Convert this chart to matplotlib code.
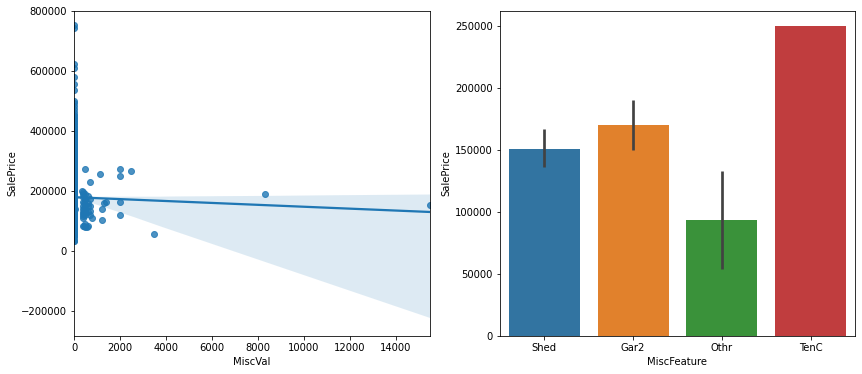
import numpy as np
import pandas as pd
import matplotlib
matplotlib.use("Agg")
import matplotlib.pyplot as plt
import seaborn as sns

# SalePrice of houses with MiscVal == 0: price level and how many houses sit near it
zero_price_levels = [35000, 40000, 52000, 60000, 68000, 75000, 85000, 95000, 105000,
                     115000, 125000, 135000, 145000, 155000, 165000, 175000, 185000,
                     195000, 205000, 215000, 225000, 235000, 245000, 255000, 265000,
                     275000, 285000, 295000, 305000, 315000, 325000, 335000, 345000,
                     355000, 365000, 375000, 385000, 395000, 405000, 415000, 425000,
                     435000, 445000, 455000, 465000, 475000, 485000, 495000,
                     501000, 538000, 556000, 582000, 611000, 625000, 745000, 755000]
zero_price_counts = [2, 1, 3, 4, 5, 8, 18, 30, 48,
                     75, 105, 140, 140, 115, 105, 95, 80,
                     70, 55, 48, 42, 38, 32, 28, 24,
                     20, 17, 15, 13, 10, 9, 7, 6,
                     5, 5, 4, 4, 3, 3, 2, 2,
                     2, 2, 2, 1, 1, 1, 1,
                     1, 1, 1, 1, 1, 1, 1, 1]

# houses with a non-zero MiscVal
misc_val = [350, 400, 400, 400, 400, 400, 400, 400, 400, 400, 400, 400,
            450, 450, 450, 450, 480, 480,
            500, 500, 500, 500, 500, 500, 500, 500,
            560, 600, 600, 600, 600, 620,
            700, 700, 700, 700, 700, 54, 800, 1150, 1200, 1200, 1300, 1400,
            2000, 2000, 2000, 2000, 2500, 3500, 8300, 15500]
misc_price = [200000, 197000, 190000, 180000, 165000, 150000, 140000, 130000, 125000, 118000, 110000, 83000,
              160000, 145000, 128000, 85000, 175000, 135000,
              275000, 192000, 170000, 155000, 140000, 120000, 90000, 80000,
              82000, 185000, 150000, 130000, 84000, 160000,
              229000, 175000, 150000, 135000, 120000, 140000, 109000, 256000, 139000, 105000, 160000, 163000,
              273000, 249000, 165000, 122000, 266000, 55600, 189000, 153000]

# MiscFeature bar chart: mean SalePrice and 95% CI ends
features = ["Shed", "Gar2", "Othr", "TenC"]
feature_mean = [151100, 170750, 94000, 250000]
feature_ci_low = [136100, 150100, 54400, np.nan]
feature_ci_high = [167000, 190300, 133200, np.nan]
feature_colors = ["#3274a1", "#e1812c", "#3a923a", "#c03d3e"]

df = pd.DataFrame({
    "MiscVal": [0] * sum(zero_price_counts) + misc_val,
    "SalePrice": list(np.repeat(zero_price_levels, zero_price_counts)) + misc_price,
})

fig = plt.figure(figsize=(862 / 72, 374 / 72), dpi=72)
ax1 = fig.add_axes([74 / 862, 38 / 374, 356 / 862, 325 / 374])
ax2 = fig.add_axes([500 / 862, 38 / 374, 355 / 862, 325 / 374])

# left: regression of SalePrice on MiscVal with bootstrapped band
sns.regplot(x="MiscVal", y="SalePrice", data=df, ax=ax1, seed=0)
ax1.set_xlim(0, 15500)
ax1.set_ylim(-283000, 801000)

# right: mean SalePrice per MiscFeature with CI bars
x = np.arange(len(features))
ax2.bar(x, feature_mean, width=0.8, color=feature_colors)
ax2.vlines(x, feature_ci_low, feature_ci_high, color="#424242", lw=2.7)
ax2.set_xticks(x, features)
ax2.set_xlim(-0.5, 3.5)
ax2.set_ylim(0, 262500)
ax2.set_xlabel("MiscFeature")
ax2.set_ylabel("SalePrice")

fig.savefig("out.png", dpi=72)
